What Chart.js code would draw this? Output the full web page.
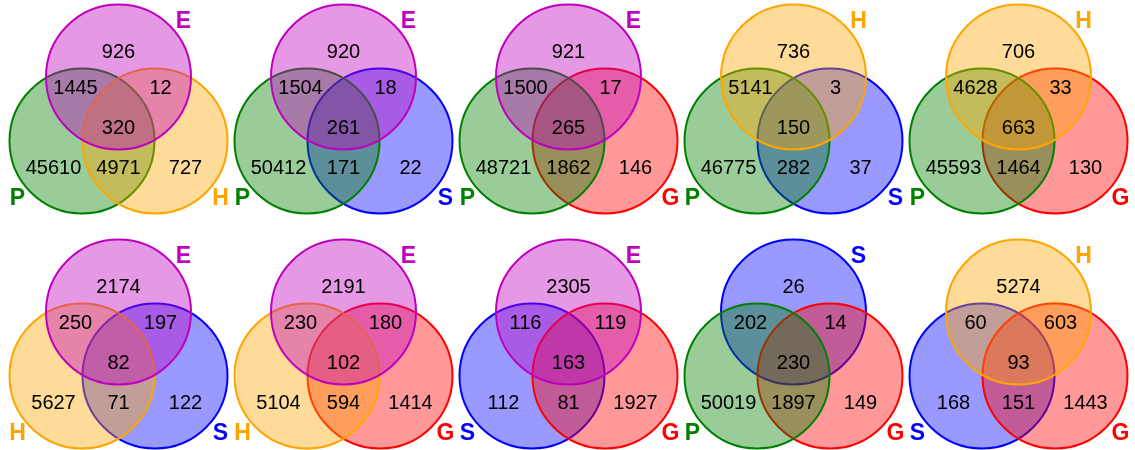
<!DOCTYPE html>
<html>
<head>
<meta charset="utf-8">
<script src="https://cdn.jsdelivr.net/npm/chart.js@4"></script>
<style>
  body { margin: 0; background: #fff; }
  #wrap { width: 1135px; height: 450px; }
</style>
</head>
<body>
<div id="wrap"><canvas id="venns"></canvas></div>
<script>
// set letters for each of the 10 diagrams (top / left / right circle)
const topSets   = ['E', 'E', 'E', 'H', 'H', 'E', 'E', 'E', 'S', 'H'];
const leftSets  = ['P', 'P', 'P', 'P', 'P', 'H', 'H', 'S', 'P', 'S'];
const rightSets = ['H', 'S', 'G', 'S', 'G', 'S', 'G', 'G', 'G', 'G'];

// region counts
const onlyTop   = [926, 920, 921, 736, 706, 2174, 2191, 2305, 26, 5274];
const leftTop   = [1445, 1504, 1500, 5141, 4628, 250, 230, 116, 202, 60];
const rightTop  = [12, 18, 17, 3, 33, 197, 180, 119, 14, 603];
const allThree  = [320, 261, 265, 150, 663, 82, 102, 163, 230, 93];
const onlyLeft  = [45610, 50412, 48721, 46775, 45593, 5627, 5104, 112, 50019, 168];
const leftRight = [4971, 171, 1862, 282, 1464, 71, 594, 81, 1897, 151];
const onlyRight = [727, 22, 146, 37, 130, 122, 1414, 1927, 149, 1443];

const setColors = { P: '0,128,0', E: '191,0,191', H: '255,165,0', S: '0,0,255', G: '255,0,0' };
// circles are stacked in this order (first = bottom)
const stackOrder = ['S', 'G', 'P', 'H', 'E'];

// layout (in scale units, which map 1:1 to pixels here)
const R = 72.5;
const COL_X0 = 118.5, COL_STEP = 225;
const ROW_CY = [77, 312];
const HALF = 36.5, DROP = 64;

const centerOf = i => ({ x: COL_X0 + (i % 5) * COL_STEP, y: ROW_CY[Math.floor(i / 5)] });

const regionOffsets = [
  [onlyTop, 0, -25], [leftTop, -43, 11.5], [rightTop, 42, 11.5], [allThree, 0, 51.5],
  [onlyLeft, -65, 91.5], [leftRight, 0, 91.5], [onlyRight, 67, 91.5]
];

const datasets = topSets.map((t, i) => {
  const c = centerOf(i);
  const circles = [
    { s: leftSets[i], x: c.x - HALF, y: c.y + DROP },
    { s: rightSets[i], x: c.x + HALF, y: c.y + DROP },
    { s: t, x: c.x, y: c.y }
  ].sort((a, b) => stackOrder.indexOf(a.s) - stackOrder.indexOf(b.s));
  return {
    data: circles.map(p => ({ x: p.x, y: p.y })),
    backgroundColor: circles.map(p => 'rgba(' + setColors[p.s] + ',0.4)'),
    borderColor: circles.map(p => 'rgb(' + setColors[p.s] + ')'),
    borderWidth: 2,
    radius: R,
    clip: false
  };
});

const vennText = {
  id: 'vennText',
  afterDatasetsDraw(chart) {
    const { ctx, scales: { x, y } } = chart;
    ctx.save();
    ctx.textAlign = 'center';
    ctx.textBaseline = 'middle';
    topSets.forEach((t, i) => {
      const c = centerOf(i);
      ctx.fillStyle = '#000';
      ctx.font = '20px "Liberation Sans", Arial, sans-serif';
      regionOffsets.forEach(([arr, dx, dy]) => {
        ctx.fillText(String(arr[i]), x.getPixelForValue(c.x + dx), y.getPixelForValue(c.y + dy));
      });
      ctx.font = 'bold 23px "Liberation Sans", Arial, sans-serif';
      [[t, 65, -55], [leftSets[i], -101, 121.5], [rightSets[i], 102, 121.5]].forEach(([s, dx, dy]) => {
        ctx.fillStyle = 'rgb(' + setColors[s] + ')';
        ctx.fillText(s, x.getPixelForValue(c.x + dx), y.getPixelForValue(c.y + dy));
      });
    });
    ctx.restore();
  }
};

new Chart(document.getElementById('venns'), {
  type: 'bubble',
  data: { datasets },
  options: {
    responsive: true,
    maintainAspectRatio: false,
    animation: false,
    events: [],
    layout: { padding: 0, autoPadding: false },
    plugins: { legend: { display: false }, tooltip: { enabled: false } },
    scales: {
      x: { type: 'linear', min: 0, max: 1135, display: false },
      y: { type: 'linear', min: 0, max: 450, reverse: true, display: false }
    }
  },
  plugins: [vennText]
});
</script>
</body>
</html>
